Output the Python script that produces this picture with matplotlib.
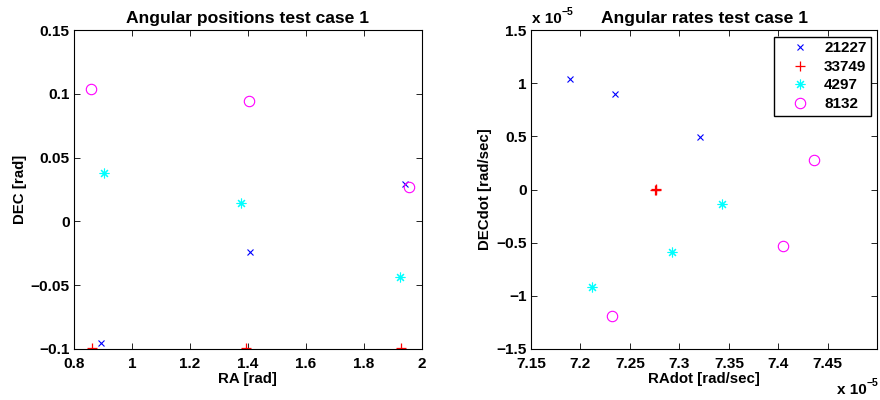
import matplotlib
matplotlib.use("Agg")
import matplotlib.pyplot as plt
from matplotlib.ticker import FuncFormatter, FixedLocator

plt.rcParams['font.family'] = ['Liberation Sans', 'DejaVu Sans']
plt.rcParams['font.weight'] = 'bold'
plt.rcParams['mathtext.default'] = 'regular'

objects = ['21227', '33749', '4297', '8132']
colors = ['#0000ff', '#ff0000', '#00ffff', '#ff00ff']

# Angular positions [rad]
ra = {
    '21227': [0.893, 1.4075, 1.943],
    '33749': [0.862, 1.394, 1.930],
    '4297':  [0.902, 1.378, 1.925],
    '8132':  [0.860, 1.404, 1.956],
}
dec = {
    '21227': [-0.095, -0.0242, 0.029],
    '33749': [-0.0995, -0.0995, -0.0995],
    '4297':  [0.038, 0.0142, -0.0438],
    '8132':  [0.104, 0.094, 0.0272],
}

# Angular rates [rad/sec]
radot = {
    '21227': [7.1896e-5, 7.2352e-5, 7.3213e-5],
    '33749': [7.2755e-5, 7.2760e-5, 7.2765e-5],
    '4297':  [7.2120e-5, 7.2922e-5, 7.3435e-5],
    '8132':  [7.2315e-5, 7.4042e-5, 7.4364e-5],
}
decdot = {
    '21227': [1.039e-5, 0.895e-5, 0.497e-5],
    '33749': [0.0, 0.003e-5, 0.0],
    '4297':  [-0.921e-5, -0.585e-5, -0.137e-5],
    '8132':  [-1.19e-5, -0.533e-5, 0.274e-5],
}

pos_xticks = [0.8, 1.0, 1.2, 1.4, 1.6, 1.8, 2.0]
pos_yticks = [-0.1, -0.05, 0, 0.05, 0.1, 0.15]
rate_xticks = [7.15, 7.2, 7.25, 7.3, 7.35, 7.4, 7.45]
rate_yticks = [-1.5, -1, -0.5, 0, 0.5, 1, 1.5]

markers = {'21227': dict(marker='x', ms=5, mew=0.8),
           '33749': dict(marker='+', ms=7, mew=0.9),
           '4297':  dict(marker=(8, 2, 0), ms=7, mew=0.8),
           '8132':  dict(marker='o', ms=7.5, mew=0.8, mfc='none')}

fig = plt.figure(figsize=(8.8, 4.0), dpi=100)
ax1 = fig.add_axes([74/880, 51/400, 347.7/880, 319/400])
ax2 = fig.add_axes([531/880, 51/400, 346.3/880, 319/400])

for name, c in zip(objects, colors):
    ax1.plot(ra[name], dec[name], ls='none', color=c, mec=c, **markers[name])
    ax2.plot(radot[name], decdot[name], ls='none', color=c, mec=c, label=name, **markers[name])

def fmt(v, p):
    s = ('%g' % round(v, 6))
    return s.replace('-', '\u2212')

ax1.set_xlim(0.8, 2.0)
ax1.set_ylim(-0.1, 0.15)
ax1.xaxis.set_major_locator(FixedLocator(pos_xticks))
ax1.yaxis.set_major_locator(FixedLocator(pos_yticks))
ax1.xaxis.set_major_formatter(FuncFormatter(fmt))
ax1.yaxis.set_major_formatter(FuncFormatter(fmt))

ax2.set_xlim(7.15e-5, 7.5e-5)
ax2.set_ylim(-1.5e-5, 1.5e-5)
ax2.xaxis.set_major_locator(FixedLocator([v * 1e-5 for v in rate_xticks]))
ax2.yaxis.set_major_locator(FixedLocator([v * 1e-5 for v in rate_yticks]))
ax2.xaxis.set_major_formatter(FuncFormatter(lambda v, p: fmt(v / 1e-5, p)))
ax2.yaxis.set_major_formatter(FuncFormatter(lambda v, p: fmt(v / 1e-5, p)))

for ax in (ax1, ax2):
    ax.tick_params(direction='in', top=True, right=True, length=4.5, width=0.6,
                   labelsize=11.1)
    ax.tick_params(axis='x', pad=5.5)
    ax.tick_params(axis='y', pad=3)
    for lab in ax.get_xticklabels() + ax.get_yticklabels():
        lab.set_fontweight('bold')
    for sp in ax.spines.values():
        sp.set_linewidth(0.8)

ax1.set_title('Angular positions test case 1', fontsize=12.6, fontweight='bold', pad=5)
ax2.set_title('Angular rates test case 1', fontsize=12.6, fontweight='bold', pad=5)
ax1.set_xlabel('RA [rad]', fontsize=10.8, fontweight='bold', labelpad=1)
ax1.set_ylabel('DEC [rad]', fontsize=10.8, fontweight='bold', labelpad=3)
ax2.set_xlabel('RAdot [rad/sec]', fontsize=10.8, fontweight='bold', labelpad=1)
ax2.set_ylabel('DECdot [rad/sec]', fontsize=10.8, fontweight='bold', labelpad=3)

fig.text(531.5/880, 1 - 23/400, 'x 10', fontsize=11, fontweight='bold', ha='left', va='baseline')
fig.text(561.5/880, 1 - 15/400, '\u22125', fontsize=7.5, ha='left', va='baseline')
fig.text(836.5/880, 1 - 394/400, 'x 10', fontsize=11, fontweight='bold', ha='left', va='baseline')
fig.text(866.5/880, 1 - 386/400, '\u22125', fontsize=7.5, ha='left', va='baseline')

leg = ax2.legend(loc='upper right', bbox_to_anchor=(871/880, 1 - 36.7/400),
                 bbox_transform=fig.transFigure, fancybox=False,
                 edgecolor='black', framealpha=1, prop={'weight': 'bold', 'size': 11},
                 handlelength=2.8, handletextpad=0.15, labelspacing=0.3,
                 borderpad=0.3, borderaxespad=0)
leg.get_frame().set_linewidth(1.0)

fig.savefig('out.png', dpi=100)
